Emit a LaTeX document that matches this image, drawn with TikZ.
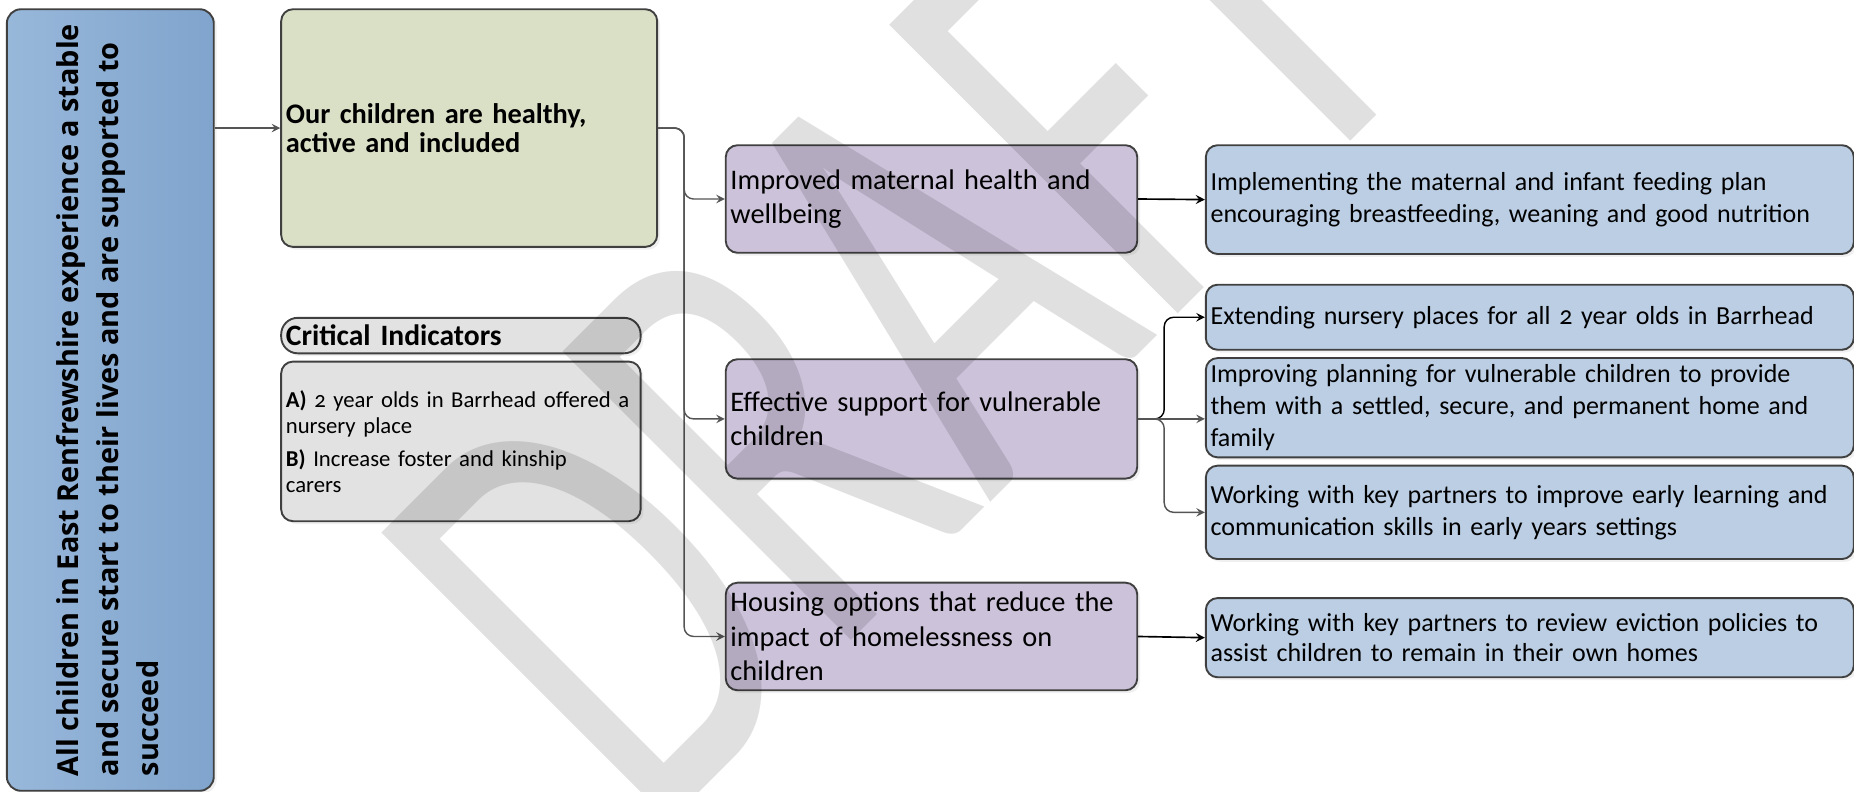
\documentclass[tikz,border=0pt]{standalone}
\usepackage{fontspec}
\usepackage{graphicx}
\setmainfont{Carlito}[Numbers=OldStyle]
\newfontfamily\goalfont{Open Sans}
\usepackage{tikz}
\usetikzlibrary{arrows,shadows,calc}

\definecolor{goalblueL}{RGB}{152,184,218}
\definecolor{goalblueR}{RGB}{128,164,205}
\definecolor{areagreen}{RGB}{218,224,198}
\definecolor{outpurple}{RGB}{204,194,218}
\definecolor{actblue}{RGB}{187,206,228}
\definecolor{cigray}{RGB}{226,226,226}
\definecolor{edgegray}{RGB}{64,64,64}
\definecolor{linkgray}{RGB}{85,85,85}

\begin{document}
\begin{tikzpicture}[x=0.5pt,y=-0.5pt,
  box/.style={draw=edgegray, line width=0.8pt, rounded corners=5pt, align=left,
    inner xsep=2pt, inner ysep=0pt, anchor=north west,
    drop shadow={shadow xshift=1.2pt, shadow yshift=-1.2pt, opacity=0.12}},
  outcome/.style={box, fill=outpurple, text width=170pt, font=\fontsize{12}{14.5}\selectfont},
  action/.style={box, fill=actblue, text width=270pt, font=\fontsize{11}{13.5}\selectfont},
  link/.style={draw=linkgray, line width=0.6pt, ->, >=stealth, rounded corners=4pt},
  feed/.style={draw=black, line width=0.7pt, ->, >=stealth},
  watermark/.style={font=\fontsize{269}{269}\selectfont, text=black, text opacity=0.12, inner sep=0pt}]
\useasboundingbox (0,0) rectangle (1568,669);

% goal and area
\node[box, rounded corners=6pt, left color=goalblueL, right color=goalblueR,
  minimum width=87.5pt, minimum height=330.5pt, inner xsep=0pt] (goal) at (5,7)
  {\rotatebox{90}{\goalfont\bfseries\fontsize{12.2}{17}\selectfont
   \begin{tabular}{@{}l@{}}All children in East Renfrewshire experience a stable\\
   and secure start to their lives and are supported to\\ succeed\end{tabular}}};
\node[box, fill=areagreen, text width=155pt, minimum height=100.5pt,
  font=\bfseries\fontsize{12}{12.5}\selectfont] (ahi) at (237,7)
  {Our children are healthy,\\ active and included};

% critical indicators
\node[box, fill=cigray, rounded corners=7pt, text width=148pt, minimum height=15pt,
  font=\bfseries\fontsize{12.5}{13}\selectfont] (cihead) at (237,268) {Critical Indicators};
\node[box, fill=cigray, text width=148pt, minimum height=67.5pt,
  font=\fontsize{9.6}{11}\selectfont] (cibody) at (237,305)
  {\textbf{A)} 2 year olds in Barrhead offered a\\ nursery place\\[3pt]
   \textbf{B)} Increase foster and kinship\\ carers};

% outcomes
\node[outcome, minimum height=45.5pt] (p1) at (613,122) {Improved maternal health and\\ wellbeing};
\node[outcome, minimum height=50.5pt] (p2) at (613,303) {Effective support for vulnerable\\ children};
\node[outcome, minimum height=45.5pt] (p3) at (613,492) {Housing options that reduce the\\ impact of homelessness on\\ children};

% actions
\node[action, minimum height=46pt] (a1) at (1019,122)
  {Implementing the maternal and infant feeding plan\\ encouraging breastfeeding, weaning and good nutrition};
\node[action, minimum height=27.5pt] (a2) at (1019,240)
  {Extending nursery places for all 2 year olds in Barrhead};
\node[action, minimum height=42pt] (a3) at (1019,302)
  {Improving planning for vulnerable children to provide\\ them with a settled, secure, and permanent home and\\ family};
\node[action, minimum height=39.5pt] (a4) at (1019,393)
  {Working with key partners to improve early learning and\\ communication skills in early years settings};
\node[action, minimum height=33.5pt, font=\fontsize{11}{13}\selectfont] (a5) at (1019,505)
  {Working with key partners to review eviction policies to\\ assist children to remain in their own homes};

% connectors
\draw[link] (goal.east |- ahi.west) -- (ahi.west);
\coordinate (trunk) at ($(ahi.east)+(22,0)$);
\draw[link] (ahi.east) -- (trunk) |- (p1.west);
\draw[link] (ahi.east) -- (trunk) |- (p2.west);
\draw[link] (ahi.east) -- (trunk) |- (p3.west);
\draw[feed] (p1.east) -- (a1.west);
\coordinate (fork) at ($(p2.east)+(22,0)$);
\draw[link, draw=black] (p2.east) -- (fork) |- (a2.west);
\draw[link] (p2.east) -- (p2.east -| a3.west);
\draw[link] (p2.east) -- (fork) |- (a4.west);
\draw[feed] (p3.east) -- (a5.west);

% watermark
\node[watermark, rotate=45, anchor=base] (draft) at (882,380) {\scalebox{0.65}[1]{DRAFT}};
\end{tikzpicture}
\end{document}
